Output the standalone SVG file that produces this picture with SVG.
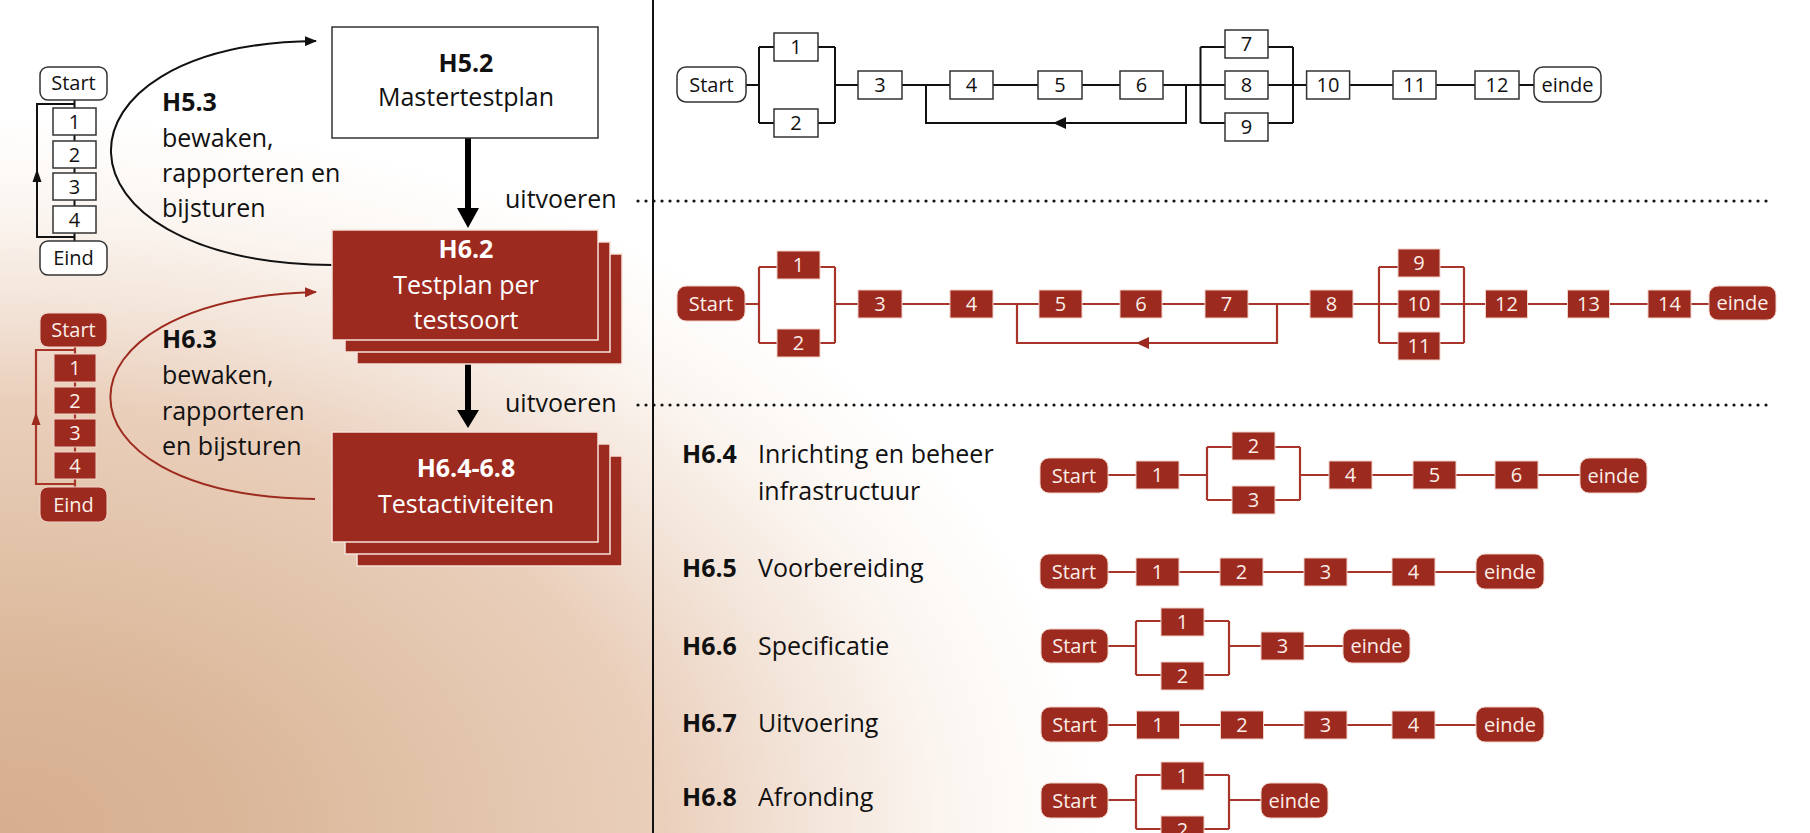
<svg xmlns="http://www.w3.org/2000/svg" width="1810" height="833" viewBox="0 0 1810 833">
<defs>
<radialGradient id="bg" gradientUnits="userSpaceOnUse" cx="0" cy="0" r="1" gradientTransform="translate(0,833) scale(1100,720)">
<stop offset="0" stop-color="#d7af8f"/>
<stop offset="0.2" stop-color="#dab598"/>
<stop offset="0.4" stop-color="#e1c3a9"/>
<stop offset="0.6" stop-color="#eacfbb"/>
<stop offset="0.72" stop-color="#f2e2d6"/>
<stop offset="0.86" stop-color="#fbf5f0"/>
<stop offset="1" stop-color="#ffffff"/>
</radialGradient>
<marker id="ahB" viewBox="0 0 12 10" refX="11" refY="5" markerWidth="12" markerHeight="10" markerUnits="userSpaceOnUse" orient="auto"><path d="M0,0 L12,5 L0,10 z" fill="#111"/></marker>
<marker id="ahR" viewBox="0 0 12 10" refX="11" refY="5" markerWidth="12" markerHeight="10" markerUnits="userSpaceOnUse" orient="auto"><path d="M0,0 L12,5 L0,10 z" fill="#9d2a1e"/></marker>
</defs>
<style>
text{font-family:"Open Sans","Liberation Sans",sans-serif;}
.big{font-size:25px;fill:#111;}
.bigw{font-size:25px;fill:#fff;}
.b{font-weight:bold;}
.sm{font-size:20px;fill:#111;text-anchor:middle;}
.smw{font-size:20px;fill:#fbeee9;text-anchor:middle;}
.mid{text-anchor:middle;}
.bx{fill:#fff;stroke:#333;stroke-width:1.5;}
.rx{fill:#9d2a1e;stroke:#f0d2c8;stroke-width:1;}
.stack{fill:#9d2a1e;stroke:#f6e2da;stroke-width:1.5;}
.lk{fill:none;stroke:#111;stroke-width:2;}
.lr{fill:none;stroke:#a8352a;stroke-width:2.2;}
.dot{fill:none;stroke:#111;stroke-width:3.2;stroke-linecap:round;stroke-dasharray:0 8;}
</style>
<rect x="0" y="0" width="1810" height="833" fill="url(#bg)"/>

<g id="connectors">
<line x1="653" y1="0" x2="653" y2="833" stroke="#111" stroke-width="2"/>
<line class="dot" x1="638" y1="201" x2="1772" y2="201"/>
<line class="dot" x1="638" y1="405" x2="1772" y2="405"/>
<line x1="468" y1="138" x2="468" y2="210" stroke="#000" stroke-width="6"/>
<polygon points="457,208 479,208 468,228" fill="#000"/>
<line x1="468" y1="340" x2="468" y2="412" stroke="#000" stroke-width="6"/>
<polygon points="457,410 479,410 468,428" fill="#000"/>
<path d="M332,265 C40,262 40,44 316,41" fill="none" stroke="#111" stroke-width="2" marker-end="url(#ahB)"/>
<path d="M315,499 C42,496 42,299 316,292" fill="none" stroke="#9d2a1e" stroke-width="2" marker-end="url(#ahR)"/>
<path class="lk" d="M74.5,100 V108 M74.5,135 V141 M74.5,168 V173 M74.5,200 V206 M74.5,233 V241"/>
<path class="lk" d="M74.5,104 H37 V237 H74.5"/>
<polygon points="37,169 32.5,182 41.5,182" fill="#111"/>
<path class="lr" d="M75,347 V354 M75,382 V387 M75,414 V419 M75,447 V452 M75,479 V487"/>
<path class="lr" d="M75,350 H36 V484 H75"/>
<polygon points="36,412 31.5,425 40.5,425" fill="#9d2a1e"/>
<path class="lk" d="M746,85 H759 M759,47 V123 M759,47 H774 M759,123 H774 M818,47 H835 M818,123 H835 M835,47 V123 M835,85 H858 M902,85 H950 M993,85 H1038 M1082,85 H1120 M1163,85 H1200.5 M1200.5,47 V123 M1200.5,47 H1225 M1200.5,85 H1225 M1200.5,123 H1225 M1268,47 H1293 M1268,85 H1293 M1268,123 H1293 M1293,47 V123 M1293,85 H1306.6 M1349.6,85 H1393 M1436,85 H1475 M1519,85 H1534"/>
<path class="lk" d="M926,85 V123 H1186 V85"/>
<polygon points="1053,123 1066,117 1066,129" fill="#111"/>
<path class="lr" d="M745,304 H759 M759,267 V343 M759,267 H777 M759,343 H777 M820,267 H835 M820,343 H835 M835,267 V343 M835,304 H858 M902,304 H950 M993,304 H1039 M1082,304 H1120 M1162,304 H1205 M1248,304 H1310 M1353,304 H1379 M1379,267 V343 M1379,267 H1398 M1379,304 H1398 M1379,343 H1398 M1440,267 H1464 M1440,304 H1464 M1440,343 H1464 M1464,267 V343 M1464,304 H1485.5 M1527.5,304 H1567.5 M1609.5,304 H1648 M1691,304 H1709"/>
<path class="lr" d="M1017,304 V343 H1277 V304"/>
<polygon points="1136,343 1149,337 1149,349" fill="#9d2a1e"/>
<path class="lr" d="M1108,475 H1136 M1179,475 H1207 M1207,447 V500 M1207,447 H1232 M1207,500 H1232 M1275,447 H1300 M1275,500 H1300 M1300,447 V500 M1300,475 H1329 M1372,475 H1413 M1456,475 H1495 M1538,475 H1580"/>
<path class="lr" d="M1108,572 H1136 M1179,572 H1220 M1263,572 H1304 M1347,572 H1392 M1435,572 H1476"/>
<path class="lr" d="M1108,646 H1136 M1136,621 V675 M1136,621 H1161 M1136,675 H1161 M1204,621 H1229 M1204,675 H1229 M1229,621 V675 M1229,646 H1261 M1304,646 H1343"/>
<path class="lr" d="M1108,725 H1136.5 M1179.5,725 H1220.5 M1263.5,725 H1304 M1347,725 H1392 M1435,725 H1476"/>
<path class="lr" d="M1108,800 H1136 M1136,775 V829 M1136,775 H1161 M1136,829 H1161 M1204,775 H1229 M1204,829 H1229 M1229,775 V829 M1229,800 H1261"/>
</g>

<g id="h52">
<rect class="bx" x="332" y="27" width="266" height="111" stroke="#1a1a1a"/>
<text class="big b mid" x="466" y="72">H5.2</text>
<text class="big mid" x="466" y="106">Mastertestplan</text>
</g>
<g id="h62">
<rect class="stack" x="357" y="254" width="265" height="110"/>
<rect class="stack" x="345" y="242" width="265" height="110"/>
<rect class="stack" x="332" y="230" width="266" height="110"/>
<text class="bigw b mid" x="466" y="258">H6.2</text>
<text class="bigw mid" x="466" y="294">Testplan per</text>
<text class="bigw mid" x="466" y="329">testsoort</text>
</g>
<g id="h64-68">
<rect class="stack" x="357" y="456" width="265" height="110"/>
<rect class="stack" x="345" y="444" width="265" height="110"/>
<rect class="stack" x="332" y="432" width="266" height="110"/>
<text class="bigw b mid" x="466" y="477">H6.4-6.8</text>
<text class="bigw mid" x="466" y="513">Testactiviteiten</text>
</g>
<g id="h53-label">
<text class="big b" x="162" y="111">H5.3</text>
<text class="big" x="162" y="147">bewaken,</text>
<text class="big" x="162" y="182">rapporteren en</text>
<text class="big" x="162" y="217">bijsturen</text>
</g>
<g id="h63-label">
<text class="big b" x="162" y="348">H6.3</text>
<text class="big" x="162" y="384">bewaken,</text>
<text class="big" x="162" y="420">rapporteren</text>
<text class="big" x="162" y="455">en bijsturen</text>
</g>
<g id="uitvoeren">
<text class="big" x="505" y="208">uitvoeren</text>
<text class="big" x="505" y="412">uitvoeren</text>
</g>

<g id="mini-black">
<rect class="bx" x="40" y="67" width="67" height="33" rx="8"/><text class="sm" x="73.5" y="90">Start</text>
<rect class="bx" x="53" y="108" width="43" height="27"/><text class="sm" x="74.5" y="128.5">1</text>
<rect class="bx" x="53" y="141" width="43" height="27"/><text class="sm" x="74.5" y="161.5">2</text>
<rect class="bx" x="53" y="173" width="43" height="27"/><text class="sm" x="74.5" y="193.5">3</text>
<rect class="bx" x="53" y="206" width="43" height="27"/><text class="sm" x="74.5" y="226.5">4</text>
<rect class="bx" x="40" y="241" width="67" height="34" rx="8"/><text class="sm" x="73.5" y="265">Eind</text>
</g>
<g id="mini-red">
<rect class="rx" x="40" y="313" width="67" height="34" rx="8"/><text class="smw" x="73.5" y="337">Start</text>
<rect class="rx" x="54" y="354" width="42" height="28"/><text class="smw" x="75" y="375">1</text>
<rect class="rx" x="54" y="387" width="42" height="27"/><text class="smw" x="75" y="407.5">2</text>
<rect class="rx" x="54" y="419" width="42" height="28"/><text class="smw" x="75" y="440">3</text>
<rect class="rx" x="54" y="452" width="42" height="27"/><text class="smw" x="75" y="472.5">4</text>
<rect class="rx" x="40" y="487" width="67" height="35" rx="8"/><text class="smw" x="73.5" y="511.5">Eind</text>
</g>

<g id="row1">
<rect class="bx" x="677" y="67" width="69" height="35" rx="9"/><text class="sm" x="711.5" y="91.5">Start</text>
<rect class="bx" x="774" y="33" width="44" height="28"/><text class="sm" x="796" y="54">1</text>
<rect class="bx" x="774" y="109" width="44" height="28"/><text class="sm" x="796" y="130">2</text>
<rect class="bx" x="858" y="71" width="44" height="28"/><text class="sm" x="880" y="92">3</text>
<rect class="bx" x="950" y="71" width="43" height="28"/><text class="sm" x="971.5" y="92">4</text>
<rect class="bx" x="1038" y="71" width="44" height="28"/><text class="sm" x="1060" y="92">5</text>
<rect class="bx" x="1120" y="71" width="43" height="28"/><text class="sm" x="1141.5" y="92">6</text>
<rect class="bx" x="1225" y="30" width="43" height="28"/><text class="sm" x="1246.5" y="51">7</text>
<rect class="bx" x="1225" y="71" width="43" height="28"/><text class="sm" x="1246.5" y="92">8</text>
<rect class="bx" x="1225" y="113" width="43" height="28"/><text class="sm" x="1246.5" y="134">9</text>
<rect class="bx" x="1306.6" y="71" width="43" height="28"/><text class="sm" x="1328" y="92">10</text>
<rect class="bx" x="1393" y="71" width="43" height="28"/><text class="sm" x="1414.5" y="92">11</text>
<rect class="bx" x="1475" y="71" width="44" height="28"/><text class="sm" x="1497" y="92">12</text>
<rect class="bx" x="1534" y="67" width="67" height="35" rx="9"/><text class="sm" x="1567.5" y="91.5">einde</text>
</g>

<g id="row2">
<rect class="rx" x="677" y="286" width="68" height="35" rx="9"/><text class="smw" x="711" y="310.5">Start</text>
<rect class="rx" x="777" y="251" width="43" height="28"/><text class="smw" x="798.5" y="272">1</text>
<rect class="rx" x="777" y="329" width="43" height="28"/><text class="smw" x="798.5" y="350">2</text>
<rect class="rx" x="858" y="290" width="44" height="28"/><text class="smw" x="880" y="311">3</text>
<rect class="rx" x="950" y="290" width="43" height="28"/><text class="smw" x="971.5" y="311">4</text>
<rect class="rx" x="1039" y="290" width="43" height="28"/><text class="smw" x="1060.5" y="311">5</text>
<rect class="rx" x="1120" y="290" width="42" height="28"/><text class="smw" x="1141" y="311">6</text>
<rect class="rx" x="1205" y="290" width="43" height="28"/><text class="smw" x="1226.5" y="311">7</text>
<rect class="rx" x="1310" y="290" width="43" height="28"/><text class="smw" x="1331.5" y="311">8</text>
<rect class="rx" x="1398" y="249" width="42" height="28"/><text class="smw" x="1419" y="270">9</text>
<rect class="rx" x="1398" y="290" width="42" height="28"/><text class="smw" x="1419" y="311">10</text>
<rect class="rx" x="1398" y="332" width="42" height="28"/><text class="smw" x="1419" y="353">11</text>
<rect class="rx" x="1485.5" y="290" width="42" height="28"/><text class="smw" x="1506.5" y="311">12</text>
<rect class="rx" x="1567.5" y="290" width="42" height="28"/><text class="smw" x="1588.5" y="311">13</text>
<rect class="rx" x="1648" y="290" width="43" height="28"/><text class="smw" x="1669.5" y="311">14</text>
<rect class="rx" x="1709" y="286" width="67" height="34" rx="9"/><text class="smw" x="1742.5" y="310">einde</text>
</g>

<g id="h64">
<text class="big b" x="682" y="463">H6.4</text>
<text class="big" x="758" y="463">Inrichting en beheer</text>
<text class="big" x="758" y="500">infrastructuur</text>
<rect class="rx" x="1040" y="458" width="68" height="35" rx="9"/><text class="smw" x="1074" y="482.5">Start</text>
<rect class="rx" x="1136" y="461" width="43" height="28"/><text class="smw" x="1157.5" y="482">1</text>
<rect class="rx" x="1232" y="432" width="43" height="28"/><text class="smw" x="1253.5" y="453">2</text>
<rect class="rx" x="1232" y="486" width="43" height="28"/><text class="smw" x="1253.5" y="507">3</text>
<rect class="rx" x="1329" y="461" width="43" height="28"/><text class="smw" x="1350.5" y="482">4</text>
<rect class="rx" x="1413" y="461" width="43" height="28"/><text class="smw" x="1434.5" y="482">5</text>
<rect class="rx" x="1495" y="461" width="43" height="28"/><text class="smw" x="1516.5" y="482">6</text>
<rect class="rx" x="1580" y="458" width="67" height="35" rx="9"/><text class="smw" x="1613.5" y="482.5">einde</text>
</g>

<g id="h65">
<text class="big b" x="682" y="577">H6.5</text>
<text class="big" x="758" y="577">Voorbereiding</text>
<rect class="rx" x="1040" y="554" width="68" height="35" rx="9"/><text class="smw" x="1074" y="578.5">Start</text>
<rect class="rx" x="1136" y="558" width="43" height="28"/><text class="smw" x="1157.5" y="579">1</text>
<rect class="rx" x="1220" y="558" width="43" height="28"/><text class="smw" x="1241.5" y="579">2</text>
<rect class="rx" x="1304" y="558" width="43" height="28"/><text class="smw" x="1325.5" y="579">3</text>
<rect class="rx" x="1392" y="558" width="43" height="28"/><text class="smw" x="1413.5" y="579">4</text>
<rect class="rx" x="1476" y="554" width="68" height="35" rx="9"/><text class="smw" x="1510" y="578.5">einde</text>
</g>

<g id="h66">
<text class="big b" x="682" y="655">H6.6</text>
<text class="big" x="758" y="655">Specificatie</text>
<rect class="rx" x="1041" y="629" width="67" height="34" rx="9"/><text class="smw" x="1074.5" y="653">Start</text>
<rect class="rx" x="1161" y="608" width="43" height="28"/><text class="smw" x="1182.5" y="629">1</text>
<rect class="rx" x="1161" y="662" width="43" height="28"/><text class="smw" x="1182.5" y="683">2</text>
<rect class="rx" x="1261" y="632" width="43" height="28"/><text class="smw" x="1282.5" y="653">3</text>
<rect class="rx" x="1343" y="629" width="67" height="34" rx="9"/><text class="smw" x="1376.5" y="653">einde</text>
</g>

<g id="h67">
<text class="big b" x="682" y="732">H6.7</text>
<text class="big" x="758" y="732">Uitvoering</text>
<rect class="rx" x="1041" y="707" width="67" height="35" rx="9"/><text class="smw" x="1074.5" y="731.5">Start</text>
<rect class="rx" x="1136.5" y="711" width="43" height="28"/><text class="smw" x="1158" y="732">1</text>
<rect class="rx" x="1220.5" y="711" width="43" height="28"/><text class="smw" x="1242" y="732">2</text>
<rect class="rx" x="1304" y="711" width="43" height="28"/><text class="smw" x="1325.5" y="732">3</text>
<rect class="rx" x="1392" y="711" width="43" height="28"/><text class="smw" x="1413.5" y="732">4</text>
<rect class="rx" x="1476" y="707" width="68" height="35" rx="9"/><text class="smw" x="1510" y="731.5">einde</text>
</g>

<g id="h68">
<text class="big b" x="682" y="806">H6.8</text>
<text class="big" x="758" y="806">Afronding</text>
<rect class="rx" x="1041" y="783" width="67" height="35" rx="9"/><text class="smw" x="1074.5" y="807.5">Start</text>
<rect class="rx" x="1161" y="762" width="43" height="28"/><text class="smw" x="1182.5" y="783">1</text>
<rect class="rx" x="1161" y="816" width="43" height="28"/><text class="smw" x="1182.5" y="837">2</text>
<rect class="rx" x="1261" y="783" width="67" height="35" rx="9"/><text class="smw" x="1294.5" y="807.5">einde</text>
</g>
</svg>
